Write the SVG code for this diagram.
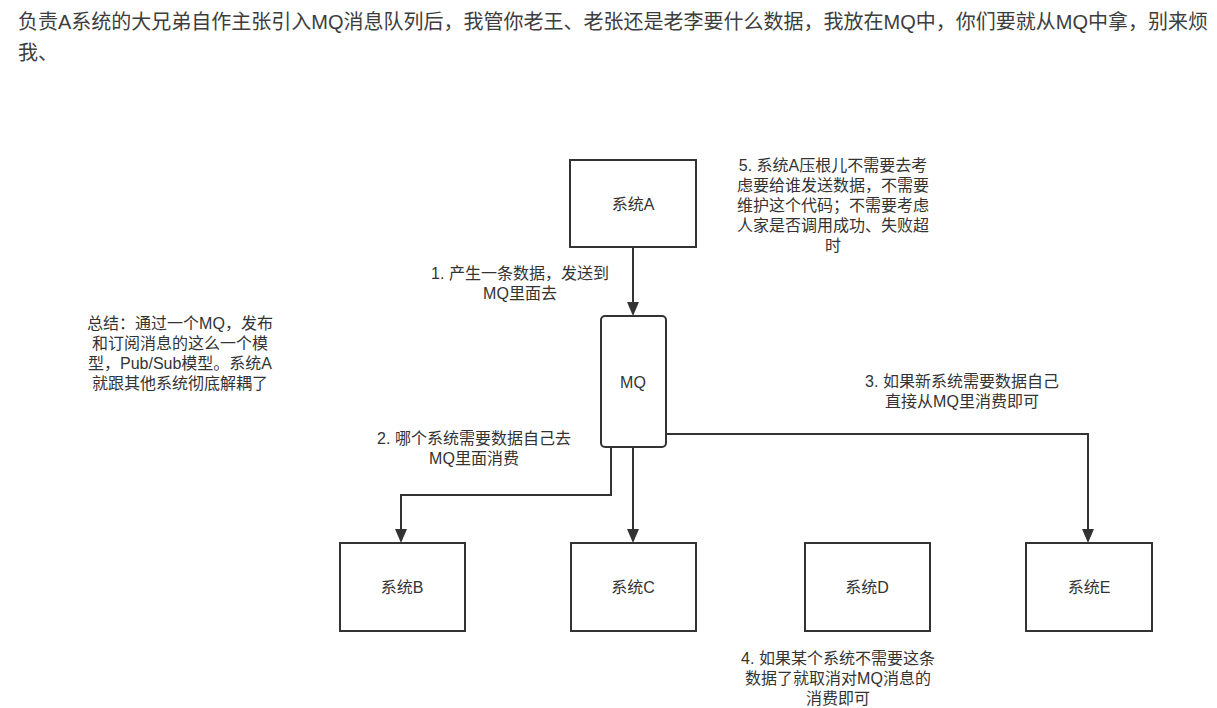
<svg xmlns="http://www.w3.org/2000/svg" width="1217" height="708" viewBox="0 0 1217 708">
<style>
.hdr{font-family:"Liberation Sans","Noto Sans CJK SC",sans-serif;font-size:20px;fill:#3d3d3d}
.t{font-family:"Liberation Sans","Noto Sans CJK SC",sans-serif;font-size:16px;fill:#333;text-anchor:middle}
.box{fill:#fff;stroke:#333;stroke-width:2}
.ln{fill:none;stroke:#333;stroke-width:2}
</style>
<defs>
<marker id="arr" markerUnits="userSpaceOnUse" markerWidth="12" markerHeight="16" refX="6" refY="14" orient="auto-start-reverse" viewBox="0 0 12 16">
<path d="M0,0 L12,0 L6,14 Z" fill="#333" transform="rotate(0)"/>
</marker>
</defs>
<rect width="1217" height="708" fill="#fff"/>
<text class="hdr" x="18" y="29">负责A系统的大兄弟自作主张引入MQ消息队列后，我管你老王、老张还是老李要什么数据，我放在MQ中，你们要就从MQ中拿，别来烦</text>
<text class="hdr" x="18" y="60">我、</text>
<g id="connectors">
<path class="ln" d="M633,247 V302"/><path d="M627,302 L639,302 L633,316 Z" fill="#333"/>
<path class="ln" d="M611,447 V495 H401 V529"/><path d="M395,529 L407,529 L401,543 Z" fill="#333"/>
<path class="ln" d="M633,447 V529"/><path d="M627,529 L639,529 L633,543 Z" fill="#333"/>
<path class="ln" d="M666,434 H1088 V529"/><path d="M1082,529 L1094,529 L1088,543 Z" fill="#333"/>
</g>
<g id="nodeA"><rect class="box" x="570" y="160" width="126" height="87"/><text class="t" x="633" y="210">系统A</text></g>
<g id="nodeMQ"><rect class="box" x="601" y="316" width="65" height="131" rx="4"/><text class="t" x="633" y="388">MQ</text></g>
<g id="nodeB"><rect class="box" x="340" y="543" width="125" height="88"/><text class="t" x="402" y="593">系统B</text></g>
<g id="nodeC"><rect class="box" x="571" y="543" width="125" height="88"/><text class="t" x="633" y="593">系统C</text></g>
<g id="nodeD"><rect class="box" x="805" y="543" width="125" height="88"/><text class="t" x="867" y="593">系统D</text></g>
<g id="nodeE"><rect class="box" x="1026" y="543" width="126" height="88"/><text class="t" x="1089" y="593">系统E</text></g>
<g id="labels">
<text class="t" x="833" y="171"><tspan x="833">5. 系统A压根儿不需要去考</tspan><tspan x="833" dy="20">虑要给谁发送数据，不需要</tspan><tspan x="833" dy="20">维护这个代码；不需要考虑</tspan><tspan x="833" dy="20">人家是否调用成功、失败超</tspan><tspan x="833" dy="20">时</tspan></text>
<text class="t" x="520" y="279"><tspan x="520">1. 产生一条数据，发送到</tspan><tspan x="520" dy="20">MQ里面去</tspan></text>
<text class="t" x="180" y="329"><tspan x="180">总结：通过一个MQ，发布</tspan><tspan x="180" dy="20">和订阅消息的这么一个模</tspan><tspan x="180" dy="20">型，Pub/Sub模型。系统A</tspan><tspan x="180" dy="20">就跟其他系统彻底解耦了</tspan></text>
<text class="t" x="474" y="444"><tspan x="474">2. 哪个系统需要数据自己去</tspan><tspan x="474" dy="20">MQ里面消费</tspan></text>
<text class="t" x="962" y="387"><tspan x="962">3. 如果新系统需要数据自己</tspan><tspan x="962" dy="20">直接从MQ里消费即可</tspan></text>
<text class="t" x="838" y="664"><tspan x="838">4. 如果某个系统不需要这条</tspan><tspan x="838" dy="20">数据了就取消对MQ消息的</tspan><tspan x="838" dy="20">消费即可</tspan></text>
</g>
</svg>
